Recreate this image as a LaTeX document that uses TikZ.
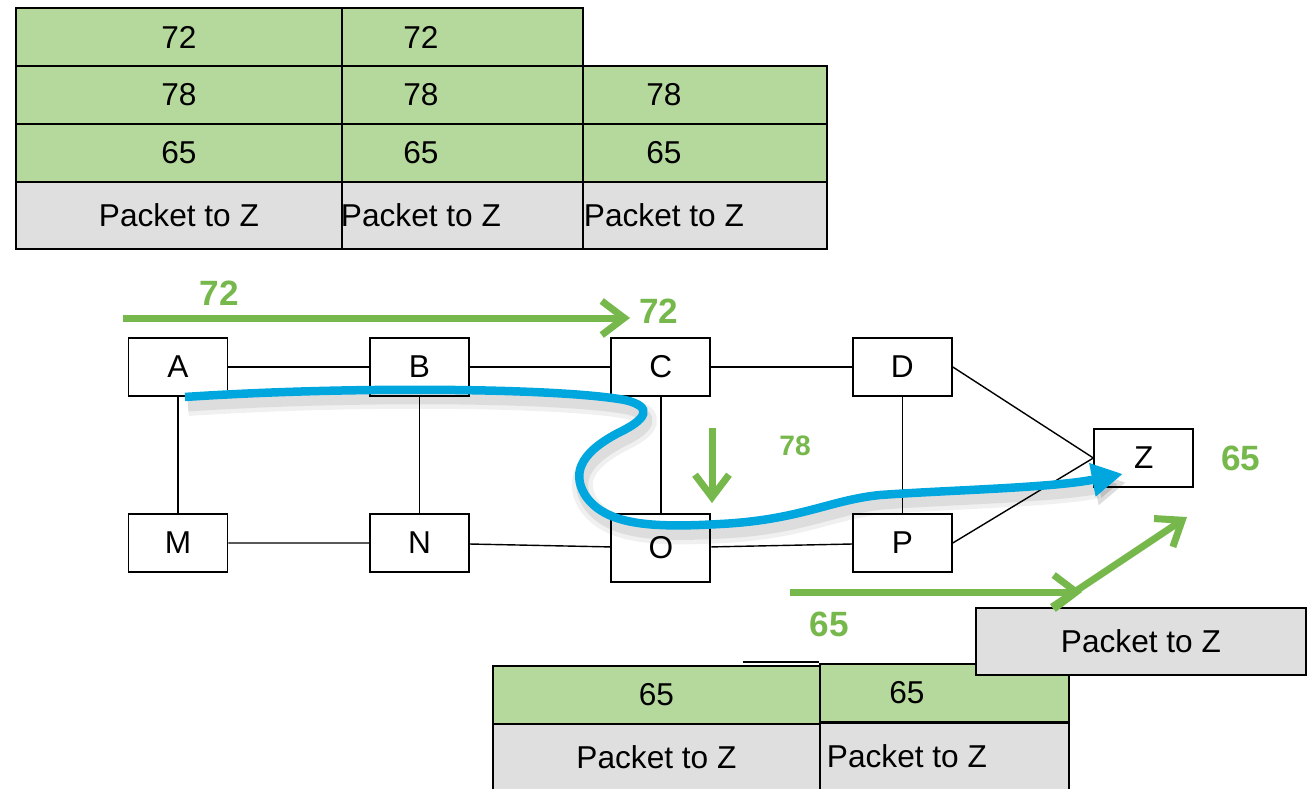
\documentclass[tikz,border=0pt]{standalone}
\usepackage{fontspec}
\setmainfont{Liberation Sans}
\usetikzlibrary{arrows.meta}
\definecolor{hopgreen}{RGB}{118,184,76}
\definecolor{tagfill}{RGB}{181,217,157}
\definecolor{pktfill}{RGB}{223,223,223}
\definecolor{routeblue}{RGB}{0,166,222}
\newcommand{\lefttag}[3]{\makebox[#2][l]{\makebox[#1]{#3}}}
\begin{document}
\begin{tikzpicture}[x=0.02cm,y=-0.02cm,node distance=4.83cm,
  font=\fontsize{18}{20}\selectfont]
\tikzstyle{router}=[draw,line width=1.1pt,minimum width=1.98cm,minimum height=1.16cm,inner sep=0pt]
\tikzstyle{cell}=[draw,line width=1.1pt,anchor=north west,inner sep=0pt,minimum height=1.16cm]
\tikzstyle{tag}=[cell,fill=tagfill]
\tikzstyle{pkt}=[cell,fill=pktfill,minimum height=1.34cm]
\tikzstyle{flow}=[hopgreen,line width=0.14cm,-{Straight Barb[length=0.45cm,width=0.68cm]}]
\tikzstyle{hoplabel}=[text=hopgreen,font=\fontsize{20}{22}\selectfont\bfseries]
\tikzstyle{route}=[routeblue,line width=0.17cm,-{Triangle[length=0.62cm,width=0.64cm]},
  preaction={draw=black,opacity=0.06,line width=0.42cm,transform canvas={xshift=0.06cm,yshift=-0.17cm}},
  preaction={draw=black,opacity=0.08,line width=0.24cm,transform canvas={xshift=0.06cm,yshift=-0.17cm}}]
\useasboundingbox (0,0) rectangle (1311,788);
% label stacks on top
\node[tag,minimum width=6.52cm] (a72) at (15,7) {72};
\node[tag,minimum width=6.52cm] (a78) at (15,65) {78};
\node[tag,minimum width=6.52cm] (a65) at (15,123) {65};
\node[pkt,minimum width=6.52cm] (apkt) at (15,181) {Packet to Z};
\node[tag] (b72) at (341,7) {\lefttag{3.16cm}{4.82cm}{72}};
\node[tag] (b78) at (341,65) {\lefttag{3.16cm}{4.82cm}{78}};
\node[tag] (b65) at (341,123) {\lefttag{3.16cm}{4.82cm}{65}};
\node[pkt] (bpkt) at (341,181) {\lefttag{3.16cm}{4.82cm}{Packet to Z}};
\node[tag] (c78) at (582,65) {\lefttag{3.24cm}{4.88cm}{78}};
\node[tag] (c65) at (582,123) {\lefttag{3.24cm}{4.88cm}{65}};
\node[pkt] (cpkt) at (582,181) {\lefttag{3.24cm}{4.88cm}{Packet to Z}};
% routers
\node[router] (a) at (178,367) {A};
\node[router] (b) [right of=a] {B};
\node[router] (c) [right of=b] {C};
\node[router] (d) [right of=c] {D};
\node[router] (m) [below of=a,node distance=3.52cm] {M};
\node[router] (n) [right of=m] {N};
\node[router,minimum height=1.36cm] (o) [below of=c,node distance=3.62cm] {O};
\node[router] (p) [below of=d,node distance=3.52cm] {P};
\node[router] (z) [right of=d,yshift=-1.82cm] {Z};
\draw[line width=0.8pt] (a) -- (b) -- (c) -- (d);
\draw[line width=0.8pt] (m) -- (n) -- (o) -- (p);
\draw[line width=0.8pt] (a) -- (m) (b) -- (n) (c) -- (o) (d) -- (p);
\draw[line width=0.8pt] (d.east) -- (z.west) (p.east) -- (z.west);
% stacks at the bottom
\draw[line width=1.1pt] (743,662) -- (819,662);
\node[tag,minimum width=6.54cm] (o65) at (492,665) {65};
\node[pkt,minimum width=6.54cm] (opkt) at (492,723) {Packet to Z};
\node[tag] (p65) at (819,663) {\lefttag{3.48cm}{4.98cm}{65}};
\node[pkt] (ppkt) at (819,722) {\lefttag{3.48cm}{4.98cm}{Packet to Z}};
\node[pkt,minimum width=6.6cm] (zpkt) at (975,607) {Packet to Z};
% path of the packet
\draw[route] ([xshift=0.14cm]a.south) .. controls (350,386) and (560,388) .. (625,400)
  .. controls (655,407) and (645,420) .. (620,432)
  .. controls (585,450) and (570,470) .. (585,495)
  .. controls (605,525) and (650,528) .. (720,524)
  .. controls (800,520) and (830,500) .. (880,495)
  .. controls (950,490) and (1050,488) .. ([xshift=-0.42cm,yshift=-0.32cm]z.center);
% label operations
\draw[flow] (123,318) -- node[hoplabel,pos=0.19,above=2pt] (l72) {72} (630,318)
  node[hoplabel,right,yshift=0.14cm] (r72) {72};
\draw[flow] (712,428) -- (712,503);
\node[hoplabel,font=\fontsize{16}{18}\selectfont\bfseries] (l78) at (795,446) {78};
\draw[flow] (790,592) -- (1082,592);
\draw[flow] (1052,607) -- (1187,517);
\node[hoplabel] (l65) at (829,624) {65};
\node[hoplabel] (z65) [right of=z,node distance=1.94cm] {65};
\end{tikzpicture}
\end{document}
